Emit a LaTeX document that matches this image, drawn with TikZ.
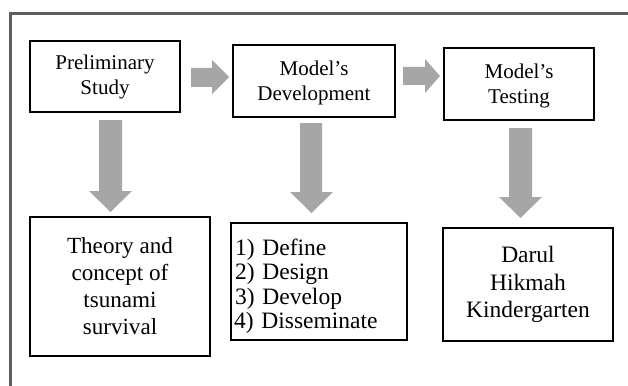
\documentclass[tikz,border=0pt]{standalone}
\usepackage{fontspec}
\setmainfont{Liberation Serif}
\definecolor{arrowgray}{HTML}{A6A6A6}
\definecolor{framegray}{HTML}{5E5E5E}
\begin{document}
\begin{tikzpicture}[x=1pt,y=-1pt,
  box/.style={draw=black,line width=1.3pt,inner sep=0pt,align=center},
  topbox/.style={box,font=\fontsize{21}{25}\selectfont},
  botbox/.style={box,font=\fontsize{23.5}{27.5}\selectfont},
  blockarrow/.style={fill=arrowgray,draw=none}]
\useasboundingbox (0,0) rectangle (628,385);
\fill[white] (0,0) rectangle (628,385);
\draw[framegray,line width=3pt] (10,387) -- (10,13.5) -- (630,13.5);

% top row
\node[topbox,minimum width=150pt,minimum height=71pt] (pre) at (105,76.5) {Preliminary\\Study};
\node[topbox,minimum width=162pt,minimum height=72pt] (dev) at (314,81) {\rule{0pt}{19pt}Model’s\\Development};
\node[topbox,minimum width=150pt,minimum height=72pt] (test) at (519,84) {\rule{0pt}{18pt}Model’s\\Testing};

% bottom row
\node[botbox,minimum width=180pt,minimum height=139pt,font=\fontsize{23.1}{27}\selectfont] (theory) at (120,286.5) {Theory and\\concept of\\tsunami\\survival};
\node[box,minimum width=176pt,minimum height=117pt,text width=170pt,align=left,font=\fontsize{23.5}{24.3}\selectfont] (steps) at (319,281.5) {\rule{0pt}{26pt}\hspace*{1pt}1) Define\\\hspace*{1pt}2) Design\\\hspace*{1pt}3) Develop\\4) Disseminate};
\node[botbox,minimum width=170pt,minimum height=113pt] (darul) at (528,284.5) {Darul\\Hikmah\\Kindergarten};

% block arrows
\fill[blockarrow] (191,68) -- (212,68) -- (212,60) -- (229,77) -- (212,94) -- (212,87) -- (191,87) -- cycle;
\fill[blockarrow] (403,67) -- (425,67) -- (425,59) -- (440,76) -- (425,93) -- (425,85) -- (403,85) -- cycle;
\fill[blockarrow] (99,120) -- (122,120) -- (122,191) -- (132,191) -- (110.5,212) -- (89,191) -- (99,191) -- cycle;
\fill[blockarrow] (300,123) -- (322,123) -- (322,192) -- (333,192) -- (311.5,213) -- (290,192) -- (300,192) -- cycle;
\fill[blockarrow] (509,128) -- (532,128) -- (532,197) -- (542,197) -- (520.5,218) -- (499,197) -- (509,197) -- cycle;
\end{tikzpicture}
\end{document}
